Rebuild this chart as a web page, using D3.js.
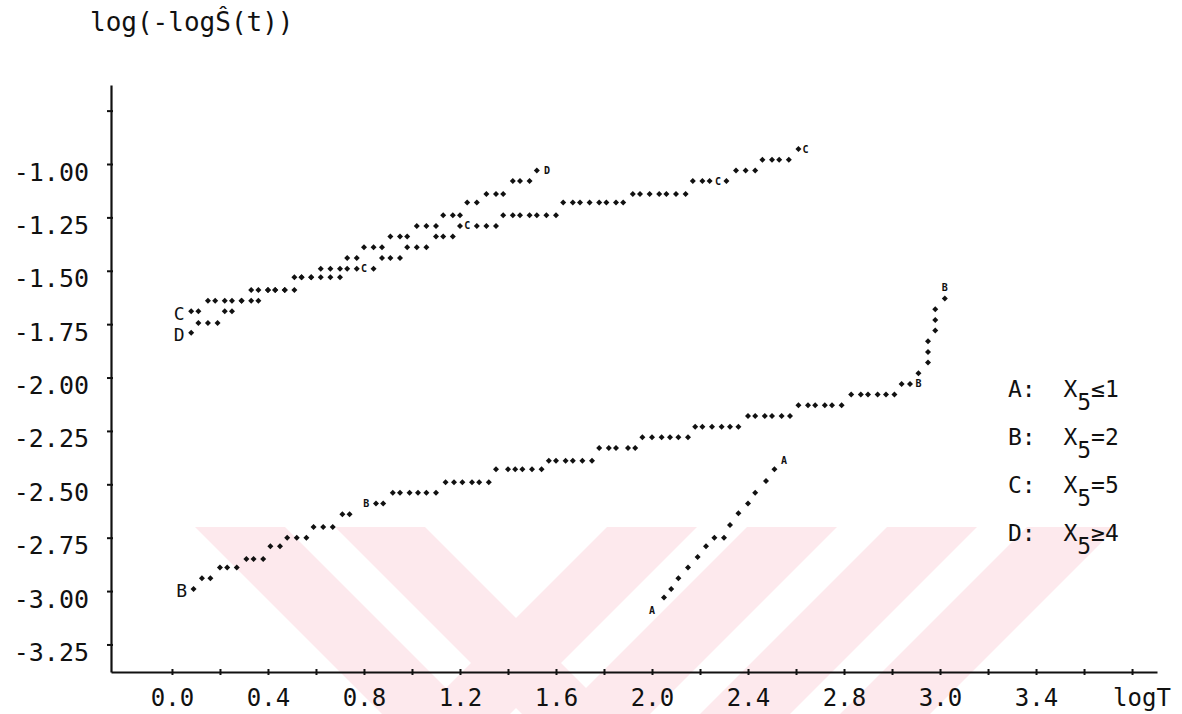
<!DOCTYPE html>
<html>
<head>
<meta charset="utf-8">
<script src="https://cdn.jsdelivr.net/npm/d3@7"></script>
<style>
  body { margin: 0; background: #fff; }
  svg { display: block; }
  text { font-family: "DejaVu Sans Mono", monospace; fill: #111; }
</style>
</head>
<body>
<div id="chart"></div>
<script>
// ---- données ----
const yTicks = [-3.25, -3.0, -2.75, -2.5, -2.25, -2.0, -1.75, -1.5, -1.25, -1.0, -0.75];
const yTickLabels = ["-3.25", "-3.00", "-2.75", "-2.50", "-2.25", "-2.00", "-1.75", "-1.50", "-1.25", "-1.00", ""];
const xTicks = [0, 0.2, 0.4, 0.6, 0.8, 1.0, 1.2, 1.4, 1.6, 1.8, 2.0, 2.2, 2.4, 2.6, 2.8, 3.0, 3.2, 3.4, 3.6, 3.8, 4.0];
const xLabelValues = [0, 0.4, 0.8, 1.2, 1.6, 2.0, 2.4, 2.8, 3.2, 3.6];
const xTickLabels = ["0.0", "0.4", "0.8", "1.2", "1.6", "2.0", "2.4", "2.8", "3.0", "3.4"];

// chaque ligne : [log(-log S), [logT ...]]
const rowsC = [
  [-1.69, [0.08, 0.11]],
  [-1.64, [0.15, 0.18, 0.22, 0.25, 0.29, 0.33, 0.36]],
  [-1.59, [0.40, 0.43, 0.47, 0.51]],
  [-1.53, [0.54, 0.58, 0.62, 0.66, 0.70]],
  [-1.49, [0.73, 0.77, 0.84]],
  [-1.44, [0.875, 0.91, 0.95]],
  [-1.39, [0.98, 1.02, 1.06]],
  [-1.34, [1.10, 1.13, 1.17]],
  [-1.29, [1.20, 1.27, 1.31, 1.35]],
  [-1.24, [1.38, 1.42, 1.45, 1.49, 1.52, 1.56, 1.60]],
  [-1.18, [1.63, 1.67, 1.70, 1.74, 1.78, 1.81, 1.85, 1.88]],
  [-1.14, [1.92, 1.95, 1.99, 2.03, 2.06, 2.10, 2.14]],
  [-1.08, [2.17, 2.21, 2.24, 2.31]],
  [-1.03, [2.35, 2.39, 2.43]],
  [-0.98, [2.46, 2.50, 2.53, 2.57]],
  [-0.93, [2.61]]
];
const marksC = [[0.80, -1.49], [1.23, -1.29], [2.275, -1.08], [2.64, -0.93]];

const rowsD = [
  [-1.79, [0.08]],
  [-1.745, [0.11, 0.15, 0.19]],
  [-1.69, [0.22, 0.25]],
  [-1.64, [0.29]],
  [-1.59, [0.33, 0.36, 0.40, 0.43, 0.47]],
  [-1.53, [0.51, 0.54, 0.58]],
  [-1.49, [0.62, 0.66, 0.70]],
  [-1.44, [0.73, 0.77]],
  [-1.39, [0.80, 0.84, 0.875]],
  [-1.34, [0.91, 0.95, 0.98]],
  [-1.29, [1.02, 1.06, 1.10]],
  [-1.24, [1.13, 1.17, 1.20]],
  [-1.18, [1.23, 1.27]],
  [-1.14, [1.31, 1.35, 1.38]],
  [-1.08, [1.42, 1.45, 1.49]],
  [-1.03, [1.52]]
];
const marksD = [[1.5625, -1.03]];

const rowsB = [
  [-2.99, [0.09]],
  [-2.94, [0.125, 0.16]],
  [-2.89, [0.20, 0.23, 0.27]],
  [-2.85, [0.31, 0.34, 0.38]],
  [-2.79, [0.41, 0.45]],
  [-2.75, [0.48, 0.52, 0.56]],
  [-2.70, [0.59, 0.63, 0.67]],
  [-2.64, [0.71, 0.74]],
  [-2.59, [0.85, 0.88]],
  [-2.54, [0.92, 0.95, 0.99, 1.025, 1.06, 1.10]],
  [-2.49, [1.14, 1.175, 1.21, 1.25, 1.28, 1.32]],
  [-2.43, [1.35, 1.40, 1.43, 1.46, 1.50, 1.54]],
  [-2.39, [1.57, 1.60, 1.64, 1.67, 1.71, 1.75]],
  [-2.33, [1.78, 1.82, 1.85, 1.90, 1.93]],
  [-2.28, [1.96, 2.00, 2.04, 2.075, 2.11, 2.15]],
  [-2.23, [2.18, 2.21, 2.25, 2.29, 2.325, 2.36]],
  [-2.18, [2.40, 2.43, 2.47, 2.50, 2.54, 2.575]],
  [-2.13, [2.61, 2.65, 2.68, 2.72, 2.75, 2.79]],
  [-2.08, [2.83, 2.87, 2.90, 2.94, 2.975, 3.01]],
  [-2.03, [3.04, 3.075]],
  [-1.98, [3.11]],
  [-1.93, [3.15]],
  [-1.88, [3.15]],
  [-1.83, [3.15]],
  [-1.78, [3.18]],
  [-1.73, [3.18]],
  [-1.68, [3.18]],
  [-1.63, [3.22]]
];
const marksB = [[0.81, -2.59], [3.11, -2.03], [3.22, -1.58]];

const pointsA = [
  [2.05, -3.03], [2.08, -2.99], [2.11, -2.94], [2.15, -2.89], [2.19, -2.84],
  [2.225, -2.79], [2.26, -2.75], [2.30, -2.75], [2.325, -2.69], [2.36, -2.635],
  [2.40, -2.59], [2.43, -2.54], [2.475, -2.485], [2.51, -2.43]
];
const marksA = [[2.00, -3.09], [2.55, -2.39]];

const legendLetters = ["A", "B", "C", "D"];
const legendRelations = ["≤1", "=2", "=5", "≥4"];

// ---- mise en page ----
const width = 1182, height = 714;
const margin = { left: 111, right: 1157, top: 85, bottom: 672 };

const svg = d3.select("#chart").append("svg")
    .attr("width", width)
    .attr("height", height);

// filigrane rose pâle du document scanné (bandes à 45°)
const bandes = [
    { x0: 195, sens: 1 }, { x0: 335, sens: 1 },
    { x0: 607, sens: -1 }, { x0: 747, sens: -1 }, { x0: 887, sens: -1 }, { x0: 1027, sens: -1 }
];
const hautFiligrane = 527, largeurBande = 90;
svg.append("g")
    .selectAll("polygon")
    .data(bandes)
    .join("polygon")
    .attr("points", b => {
        const h = height - hautFiligrane;
        const d = b.sens * h;
        return [
            [b.x0, hautFiligrane], [b.x0 + largeurBande, hautFiligrane],
            [b.x0 + largeurBande + d, height], [b.x0 + d, height]
        ].join(" ");
    })
    .attr("fill", "#fde9ed");

const x = d3.scaleLinear().domain([-0.254, 4.104]).range([margin.left, margin.right]);
const y = d3.scaleLinear().domain([-3.379, -0.63]).range([margin.bottom, margin.top]);

const flatten = rows => rows.flatMap(([yv, xs]) => xs.map(xv => [xv, yv]));

// titre de l'axe y
svg.append("text")
    .attr("x", 90)
    .attr("y", 31)
    .attr("font-size", 26)
    .text("log(-logŜ(t))");

// axe y
const axeY = d3.axisLeft(y)
    .tickValues(yTicks)
    .tickSizeInner(4)
    .tickSizeOuter(0)
    .tickPadding(18)
    .tickFormat((d, i) => yTickLabels[i]);

const gY = svg.append("g")
    .attr("transform", "translate(" + margin.left + ",0)")
    .call(axeY);
gY.select(".domain").attr("stroke", "#111").attr("stroke-width", 2.2);
gY.selectAll(".tick line").attr("stroke", "#111").attr("stroke-width", 2).attr("x2", -4).attr("x1", 2);
gY.selectAll(".tick text")
    .attr("font-family", "DejaVu Sans Mono, monospace")
    .attr("font-size", 25)
    .attr("fill", "#111")
    .attr("dy", "0.32em")
    .attr("y", 8);

// axe x
const axeX = d3.axisBottom(x)
    .tickValues(xTicks)
    .tickSizeInner(3)
    .tickSizeOuter(0)
    .tickFormat(d => {
        const i = xLabelValues.findIndex(v => Math.abs(v - d) < 1e-6);
        return i < 0 ? "" : xTickLabels[i];
    });

const gX = svg.append("g")
    .attr("transform", "translate(0," + margin.bottom + ")")
    .call(axeX);
gX.select(".domain").attr("stroke", "#111").attr("stroke-width", 2);
gX.selectAll(".tick line").attr("stroke", "#111").attr("stroke-width", 2).attr("y1", -3).attr("y2", 3);
gX.selectAll(".tick text")
    .attr("font-family", "DejaVu Sans Mono, monospace")
    .attr("font-size", 24)
    .attr("fill", "#111")
    .attr("y", 17);

svg.append("text")
    .attr("x", 1142)
    .attr("y", 706)
    .attr("text-anchor", "middle")
    .attr("font-size", 24)
    .text("logT");

// points
const series = [
    { name: "C", points: flatten(rowsC), marks: marksC },
    { name: "D", points: flatten(rowsD), marks: marksD },
    { name: "B", points: flatten(rowsB), marks: marksB },
    { name: "A", points: pointsA, marks: marksA }
];

const symbole = d3.symbol(d3.symbolSquare, 18);

series.forEach(s => {
    svg.append("g")
        .selectAll("path")
        .data(s.points)
        .join("path")
        .attr("transform", d => "translate(" + x(d[0]) + "," + y(d[1]) + ") rotate(45)")
        .attr("d", symbole)
        .attr("fill", "#111");

    svg.append("g")
        .selectAll("text")
        .data(s.marks)
        .join("text")
        .attr("x", d => x(d[0]))
        .attr("y", d => y(d[1]))
        .attr("text-anchor", "middle")
        .attr("dominant-baseline", "central")
        .attr("font-family", "DejaVu Sans, sans-serif")
        .attr("font-weight", "bold")
        .attr("font-size", 10)
        .text(s.name);
});

// lettres au début des courbes C, D, B
const debuts = series.filter(s => s.name !== "A");
svg.append("g")
    .selectAll("text")
    .data(debuts)
    .join("text")
    .attr("x", s => x(s.points[0][0]) - 12)
    .attr("y", s => y(s.points[0][1]) + 2)
    .attr("text-anchor", "middle")
    .attr("dominant-baseline", "central")
    .attr("font-family", "DejaVu Sans, sans-serif")
    .attr("font-size", 18)
    .text(s => s.name);

// légende
const legende = svg.append("g")
    .selectAll("text")
    .data(legendLetters)
    .join("text")
    .attr("x", 1008)
    .attr("y", (d, i) => 397 + i * 48)
    .attr("font-size", 23)
    .attr("xml:space", "preserve")
    .style("white-space", "pre");

legende.append("tspan").text(d => d + ":  X");
legende.append("tspan").attr("dy", 13).text("5");
legende.append("tspan")
    .attr("dy", -13)
    .text((d, i) => legendRelations[i]);
</script>
</body>
</html>
